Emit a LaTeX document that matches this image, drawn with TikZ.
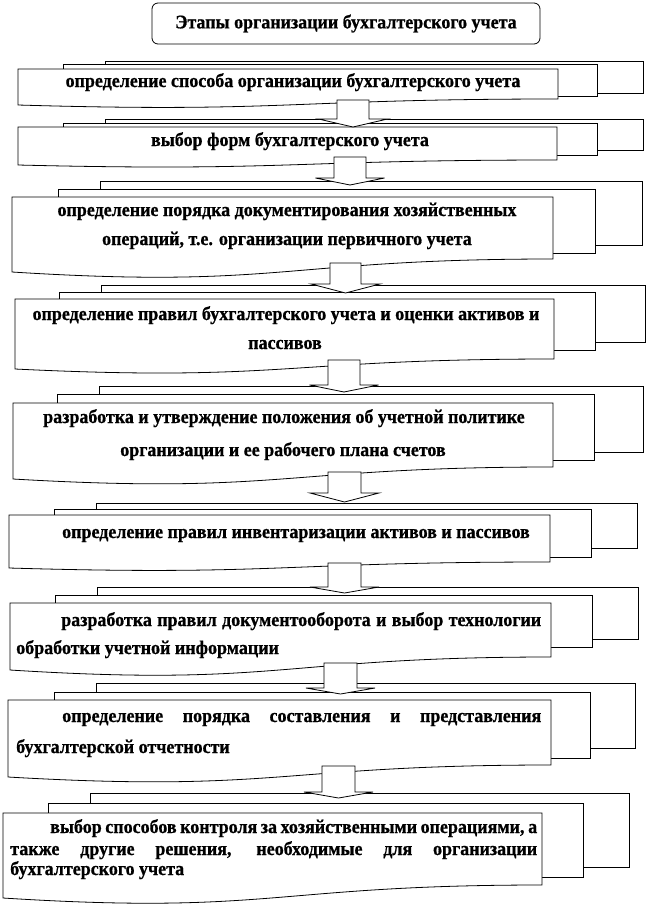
\documentclass[tikz,border=0pt]{standalone}
\usepackage{fontspec}
\setmainfont{Liberation Serif}[FakeStretch=0.93,BoldFeatures={FakeBold=0.8}]
\begin{document}
\begin{tikzpicture}[x=0.75pt,y=-0.75pt,
  outl/.style={draw=black,line width=0.6pt,fill=white,line join=miter},
  lbl/.style={inner sep=0pt,font=\bfseries\fontsize{14.5}{16}\selectfont},
  barrow/.style={draw=black,line width=0.6pt,fill=white,line join=miter}]
\useasboundingbox (0,0) rectangle (647,908);

% title
\node[outl, rounded corners=4.5pt, minimum width=291pt, minimum height=30.75pt, lbl] (title) at (346,23.5) {Этапы организации бухгалтерского учета};

% stages: front L/R/T/BR/BL, middle L/R/T/B, back L/R/T/B
\foreach \n/\L/\R/\T/\BR/\BL/\mL/\mR/\mT/\mB/\bL/\bR/\bT/\bB in {
 1/18/558/69/99/105/63/597/64/96/105/643/61/93,
 2/18/557/127/160/165/63/597/123/155/105/643/119/150,
 3/12/553/197/259/272/58/595/189/253/100/642/181/245,
 4/15/554/299/359/369/59/595/292/350/101/645/285/342,
 5/13/553/403/467/479/57/594/394/460/99/643/386/452,
 6/9/550/515/562/568/54/591/509/557/96/637/503/548,
 7/10/551/603/657/670/55/592/595/647/97/638/587/639,
 8/8/551/700/765/777/54/590/692/758/96/635/683/748,
 9/3/542/813/885/898/48/583/803/877/90/629/793/867}
{
 \draw[outl] (\bL,\bT) rectangle (\bR,\bB);
 \draw[outl] (\mL,\mT) rectangle (\mR,\mB);
 \pgfmathsetmacro\M{(\L+\R)/2}
 \pgfmathsetmacro\D{\BR+2.31*(\BL-\BR)}
 \draw[outl] (\L,\T) -- (\R,\T) -- (\R,\BR) .. controls (\M,\BR) and (\M,\D) .. (\L,\BL) -- cycle;
 \coordinate (s\n) at (\M,\T);
}

% texts
\node[lbl,anchor=base] (t1) at (293,87) {определение способа организации бухгалтерского учета};
\node[lbl,anchor=base] (t2) at (290,146) {выбор форм бухгалтерского учета};
\node[lbl,anchor=base] (t3a) at (287,216) {определение порядка документирования хозяйственных};
\node[lbl,anchor=base] (t3b) at (287,245) {операций, т.е. организации первичного учета};
\node[lbl,anchor=base] (t4a) at (286,320) {определение правил бухгалтерского учета и оценки активов и};
\node[lbl,anchor=base] (t4b) at (285,349) {пассивов};
\node[lbl,anchor=base] (t5a) at (284,423) {разработка и утверждение положения об учетной политике};
\node[lbl,anchor=base] (t5b) at (283,456) {организации и ее рабочего плана счетов};
\node[lbl,anchor=base] (t6) at (296,538) {определение правил инвентаризации активов и пассивов};
\node[lbl,anchor=base west] (t7a) at (61,626) {\makebox[360pt][s]{разработка правил документооборота и выбор технологии}};
\node[lbl,anchor=base west] (t7b) at (16,654) {обработки учетной информации};
\node[lbl,anchor=base west] (t8a) at (62,722) {\makebox[359.25pt][s]{определение порядка составления и представления}};
\node[lbl,anchor=base west] (t8b) at (16,753) {бухгалтерской отчетности};
\node[lbl,anchor=base west] (t9a) at (50,833) {\makebox[365.25pt][s]{выбор способов контроля за хозяйственными операциями, а}};
\node[lbl,anchor=base west] (t9b) at (10,855) {\makebox[395.25pt][s]{также другие решения, необходимые для организации}};
\node[lbl,anchor=base west] (t9c) at (10,875) {бухгалтерского учета};

% block arrows
\foreach \a/\xa/\xb/\tp/\bs/\tip in {1/337/369/100/119/127, 2/334/366/157/178/185,
  3/330/361/263/284/293, 4/328/360/360/385/392, 5/328/361/472/493/502,
  6/328/361/563/587/593, 7/324/357/663/688/694, 8/322/355/766/792/798}
{
 \pgfmathsetmacro\cx{(\xa+\xb)/2}
 \draw[barrow] (\xa,\tp) -- (\xa,\bs) -- ({\cx-34.5},\bs) -- (\cx,\tip) -- ({\cx+34.5},\bs) -- (\xb,\bs) -- (\xb,\tp) -- cycle;
}
\end{tikzpicture}
\end{document}
